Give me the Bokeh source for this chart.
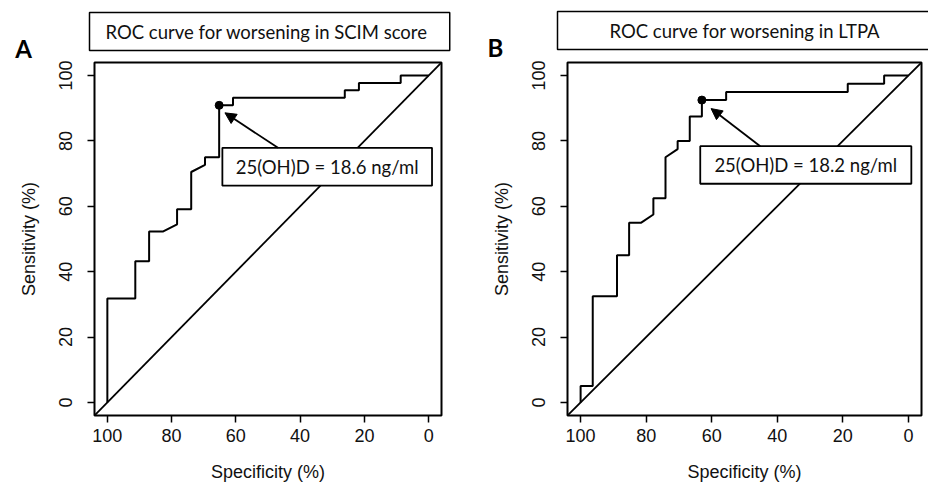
from bokeh.plotting import figure
from bokeh.layouts import row
from bokeh.models import Range1d, FixedTicker, Label, Arrow, NormalHead, Title
from bokeh.embed import file_html
from bokeh.resources import INLINE

# ---------------- data ----------------
axis_ticks = [0, 20, 40, 60, 80, 100]
x_axis_title = "Specificity (%)"
y_axis_title = "Sensitivity (%)"

# Panel A: ROC curve for worsening in SCIM score
a_title = "ROC curve for worsening in SCIM score"
a_letter = "A"
a_spec = [100, 100, 91.3, 91.3, 87.0, 87.0, 82.6, 78.3, 78.3, 73.9, 73.9, 69.6, 69.6,
          65.2, 65.2, 60.9, 60.9, 26.1, 26.1, 21.7, 21.7, 8.7, 8.7, 0]
a_sens = [0, 31.8, 31.8, 43.2, 43.2, 52.3, 52.3, 54.5, 59.1, 59.1, 70.5, 72.7, 75.0,
          75.0, 90.9, 90.9, 93.2, 93.2, 95.5, 95.5, 97.7, 97.7, 100, 100]
a_best_spec = [65.2]
a_best_sens = [90.9]
a_best_label = "25(OH)D = 18.6 ng/ml"

# Panel B: ROC curve for worsening in LTPA
b_title = "ROC curve for worsening in LTPA"
b_letter = "B"
b_spec = [100, 100, 96.3, 96.3, 88.9, 88.9, 85.2, 85.2, 81.5, 77.8, 77.8, 74.1, 74.1,
          70.4, 70.4, 66.7, 66.7, 63.0, 63.0, 55.6, 55.6, 18.5, 18.5, 7.4, 7.4, 0]
b_sens = [0, 5.0, 5.0, 32.5, 32.5, 45.0, 45.0, 55.0, 55.0, 57.5, 62.5, 62.5, 75.0,
          77.5, 80.0, 80.0, 87.5, 87.5, 92.5, 92.5, 95.0, 95.0, 97.5, 97.5, 100, 100]
b_best_spec = [63.0]
b_best_sens = [92.5]
b_best_label = "25(OH)D = 18.2 ng/ml"

AX_FONT = "Liberation Sans"
BOX_FONT = "Lato"
FIG_H = 493


def make_panel(spec, sens, best_spec, best_sens, best_label, title, letter,
               width, borders, lay):
    bl, br, bt, bb = borders
    p = figure(width=width, height=FIG_H, output_backend="svg", toolbar_location=None,
               x_range=Range1d(104, -4), y_range=Range1d(-4, 104),
               min_border_left=bl, min_border_right=br, min_border_top=bt,
               min_border_bottom=bb, x_axis_label=x_axis_title, y_axis_label=y_axis_title)
    p.background_fill_color = "white"
    p.border_fill_color = "white"
    p.outline_line_color = "black"
    p.outline_line_width = 2
    p.xgrid.visible = False
    p.ygrid.visible = False

    for ax in (p.xaxis[0], p.yaxis[0]):
        ax.ticker = FixedTicker(ticks=axis_ticks)
        ax.axis_line_color = None
        ax.major_tick_in = 0
        ax.major_tick_out = 7
        ax.major_tick_line_width = 1.5
        ax.major_tick_line_color = "black"
        ax.minor_tick_line_color = None
        ax.major_label_text_font = AX_FONT
        ax.major_label_text_font_size = "18px"
        ax.major_label_text_color = "#111111"
        ax.axis_label_text_font = AX_FONT
        ax.axis_label_text_font_size = "18px"
        ax.axis_label_text_font_style = "normal"
        ax.axis_label_text_color = "#111111"
    p.xaxis[0].major_label_standoff = 6
    p.xaxis[0].axis_label_standoff = 17
    p.yaxis[0].major_label_orientation = "vertical"
    p.yaxis[0].major_label_standoff = 15
    p.yaxis[0].axis_label_standoff = 18

    # chance diagonal across the whole frame
    p.line(x=[104, -4], y=[-4, 104], line_color="black", line_width=1.8)
    # ROC curve
    p.line(x=spec, y=sens, line_color="black", line_width=2)

    # annotation box with threshold
    bx0, bx1, by0, by1 = lay["box"]
    p.quad(left=[bx0], right=[bx1], bottom=[by0], top=[by1], fill_color="white",
           line_color="black", line_width=1.8)
    p.text(x=[(bx0 + bx1) / 2], y=[(by0 + by1) / 2], text=[best_label],
           text_align="center", text_baseline="middle", text_font_size="18.5px",
           text_font={"value": BOX_FONT}, text_color="#111111")
    ax0, ay0, ax1, ay1 = lay["arrow"]
    p.add_layout(Arrow(x_start=ax0, y_start=ay0, x_end=ax1, y_end=ay1,
                       line_color="black", line_width=1.8,
                       end=NormalHead(size=11, fill_color="black", line_color="black")))
    p.scatter(x=best_spec, y=best_sens, size=8, color="black")

    # panel letter (side panel above the frame, closest to it)
    lx, ly = lay["letter_xy"]
    lab = Label(x=lx - bl, y=bt - ly, x_units="screen", y_units="screen", text=letter,
                text_align="center", text_baseline="middle", text_font=BOX_FONT,
                text_font_style="bold", text_font_size="24px", text_color="black")
    p.add_layout(lab, "above")

    # boxed title above the frame
    t = Title(text=title, align="left", offset=lay["title_offset"],
              standoff=lay["title_standoff"],
              text_font=BOX_FONT, text_font_size="18.5px", text_font_style="normal",
              text_color="#111111", background_fill_color="white",
              border_line_color="black", border_line_width=1.5)
    t.padding = dict(left=lay["pad_h"][0], right=lay["pad_h"][1], top=8, bottom=8)
    p.add_layout(t, "above")
    return p


lay_a = dict(box=(64.2, -1.05, 66.3, 77.9), arrow=(46.9, 77.9, 63.4, 88.6),
             title_offset=-5, title_standoff=-34, pad_h=(16, 22), letter_xy=(23, 47))
lay_b = dict(box=(63.5, -0.9, 66.9, 78.4), arrow=(45.2, 78.4, 60.2, 89.9),
             title_offset=-10, title_standoff=-32, pad_h=(52, 50), letter_xy=(23, 47))

pa = make_panel(a_spec, a_sens, a_best_spec, a_best_sens, a_best_label, a_title, a_letter,
                472, (94, 31, 61, 76), lay_a)
pb = make_panel(b_spec, b_sens, b_best_spec, b_best_sens, b_best_label, b_title, b_letter,
                456, (95, 7, 62, 78), lay_b)

layout = row(pa, pb)
open("out.html", "w").write(file_html(layout, INLINE))
